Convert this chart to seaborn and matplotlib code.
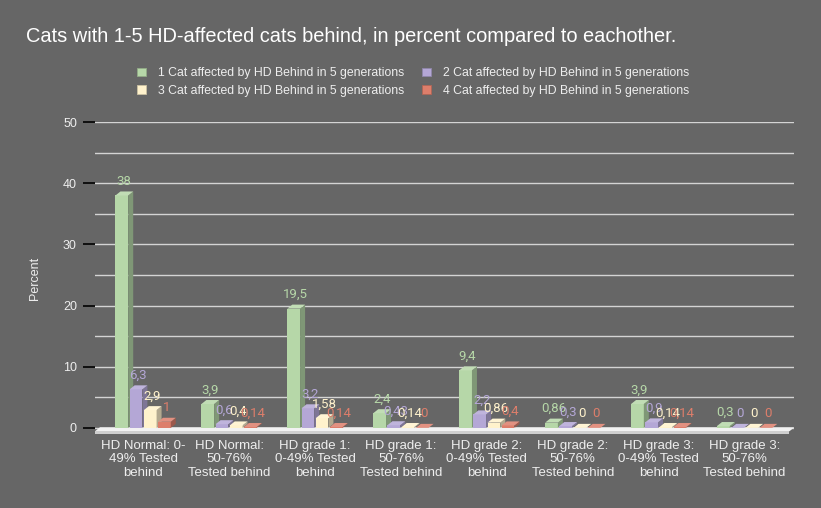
import matplotlib
matplotlib.use("Agg")
import matplotlib.pyplot as plt
from matplotlib.patches import Polygon, Patch
import matplotlib.colors as mcolors
import seaborn as sns
import pandas as pd
import numpy as np

# ---- data ----
categories = [
    "HD Normal: 0-\n49% Tested\nbehind",
    "HD Normal:\n50-76%\nTested behind",
    "HD grade 1:\n0-49% Tested\nbehind",
    "HD grade 1:\n50-76%\nTested behind",
    "HD grade 2:\n0-49% Tested\nbehind",
    "HD grade 2:\n50-76%\nTested behind",
    "HD grade 3:\n0-49% Tested\nbehind",
    "HD grade 3:\n50-76%\nTested behind",
]
series_names = [
    "1 Cat affected by HD Behind in 5 generations",
    "2 Cat affected by HD Behind in 5 generations",
    "3 Cat affected by HD Behind in 5 generations",
    "4 Cat affected by HD Behind in 5 generations",
]
one_cat = [38, 3.9, 19.5, 2.4, 9.4, 0.86, 3.9, 0.3]
two_cat = [6.3, 0.6, 3.2, 0.43, 2.2, 0.3, 0.9, 0]
three_cat = [2.9, 0.4, 1.58, 0.14, 0.86, 0, 0.14, 0]
four_cat = [1, 0.14, 0.14, 0, 0.4, 0, 0.14, 0]
yticks = [0, 10, 20, 30, 40, 50]
colors = ["#b6d7a8", "#b4a7d6", "#fff2cc", "#dd7e6b"]
title = "Cats with 1-5 HD-affected cats behind, in percent compared to eachother."

series_values = [one_cat, two_cat, three_cat, four_cat]
rows = []
for s, vals in zip(series_names, series_values):
    for c, v in zip(categories, vals):
        rows.append({"category": c, "series": s, "value": v})
df = pd.DataFrame(rows)

BG = "#666666"
TXT = "#eeeeee"
plt.rcParams["font.family"] = ["Liberation Sans", "DejaVu Sans"]

fig = plt.figure(figsize=(8.21, 5.08), dpi=100, facecolor=BG)
ax = fig.add_axes([0.1157, 0.1457, 0.852, 0.614])
ax.set_facecolor(BG)

sns.barplot(data=df, x="category", y="value", hue="series",
            hue_order=series_names, order=categories, palette=colors,
            saturation=1, width=0.66, gap=0.1, legend=False, ax=ax,
            edgecolor="none", linewidth=0)

xl = (-0.56, 7.58)
yl = (-1.0, 50)
ax.set_xlim(*xl)
ax.set_ylim(*yl)

# pixel -> data conversion for the 3D depth effect
bw = fig.get_figwidth() * fig.dpi * 0.852
bh = fig.get_figheight() * fig.dpi * 0.614
dx = 5 / (bw / (xl[1] - xl[0]))
dy = 4 / (bh / (yl[1] - yl[0]))

# floor slab
floor_top = Polygon([(xl[0], -0.55), (xl[0] + dx, -0.55 + dy),
                     (xl[1], -0.55 + dy), (xl[1] - dx, -0.55)],
                    closed=True, facecolor="#f2f2f2", edgecolor="none", zorder=1.5)
floor_front = Polygon([(xl[0], -1.0), (xl[1] - dx, -1.0),
                       (xl[1] - dx, -0.55), (xl[0], -0.55)],
                      closed=True, facecolor="#cfcfcf", edgecolor="none", zorder=1.5)
ax.add_patch(floor_top)
ax.add_patch(floor_front)

def shade(c, f):
    r, g, b = mcolors.to_rgb(c)
    return (r * f, g * f, b * f)

def lighten(c, f):
    r, g, b = mcolors.to_rgb(c)
    return (r + (1 - r) * f, g + (1 - g) * f, b + (1 - b) * f)

for k, cont in enumerate(ax.containers):
    col = colors[k]
    z = 2 + k * 0.1
    for bar, v in zip(cont.patches, series_values[k]):
        bar.set_zorder(z)
        x0 = bar.get_x()
        w = bar.get_width()
        h = bar.get_height()
        side = Polygon([(x0 + w, 0), (x0 + w, h), (x0 + w + dx, h + dy), (x0 + w + dx, dy)],
                       closed=True, facecolor=shade(col, 0.7), edgecolor="none", zorder=z)
        top = Polygon([(x0, h), (x0 + dx, h + dy), (x0 + w + dx, h + dy), (x0 + w, h)],
                      closed=True, facecolor=lighten(col, 0.15), edgecolor="none", zorder=z)
        ax.add_patch(side)
        ax.add_patch(top)
        lab = f"{v:g}".replace(".", ",")
        ax.annotate(lab, (x0 + w / 2, h), xytext=(2, 14), textcoords="offset pixels",
                    ha="center", va="center", color=col, fontsize=9.5,
                    family=["Roboto", "DejaVu Sans"], zorder=10)

# grid & ticks
ax.set_yticks(yticks)
ax.set_yticks([5, 15, 25, 35, 45], minor=True)
ax.grid(axis="y", which="both", color="#d4d4d4", linewidth=1, zorder=0)
ax.grid(axis="x", visible=False)
ax.set_axisbelow(True)
ax.tick_params(axis="y", which="major", length=9, width=1.2, color="black",
               labelcolor=TXT, labelsize=9, pad=4)
ax.tick_params(axis="y", which="minor", length=0)
ax.tick_params(axis="x", length=0, labelcolor=TXT, labelsize=9.5, pad=4)
for s in ax.spines.values():
    s.set_visible(False)
ax.set_xlabel("")
ax.set_ylabel("Percent", color=TXT, fontsize=9, labelpad=16)

# title
fig.text(26 / 821, 1 - 37 / 508, title, color="white", fontsize=14.4, ha="left", va="center")

# legend
handles = [Patch(facecolor=c, edgecolor=shade(c, 0.8), linewidth=0.6) for c in colors]
order = [0, 2, 1, 3]
fig.legend([handles[i] for i in order], [series_names[i] for i in order],
           ncol=2, loc="center", bbox_to_anchor=(413 / 821, 1 - 82 / 508),
           frameon=False, fontsize=8.8, labelcolor=TXT, handlelength=0.75,
           handleheight=0.75, handletextpad=1.0, columnspacing=1.4, labelspacing=0.45)

fig.savefig("out.png", dpi=100, facecolor=BG)
